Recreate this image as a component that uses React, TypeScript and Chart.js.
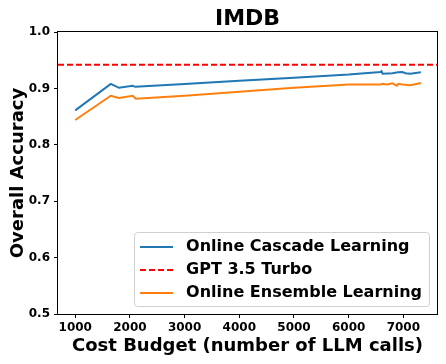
import React, { useEffect, useRef } from "react";
import { Chart, registerables } from "chart.js";

Chart.register(...registerables);

const TITLE = "IMDB";
const X_LABEL = "Cost Budget (number of LLM calls)";
const Y_LABEL = "Overall Accuracy";

const xTicks = [1000, 2000, 3000, 4000, 5000, 6000, 7000];
const yTicks = [0.5, 0.6, 0.7, 0.8, 0.9, 1.0];
const xRange = [685, 7615];
const yRange = [0.5, 1.0];

const cascadeLabel = "Online Cascade Learning";
const cascadeX = [1000, 1650, 1800, 2050, 2100, 3000, 4000, 5000, 6000, 6580, 6600, 6620, 6800, 6900, 6980, 7040, 7130, 7320];
const cascadeY = [0.861, 0.908, 0.901, 0.9045, 0.9028, 0.908, 0.9137, 0.919, 0.9245, 0.929, 0.9305, 0.926, 0.927, 0.9285, 0.929, 0.9268, 0.926, 0.9285];

const gptLabel = "GPT 3.5 Turbo";
const gptAccuracy = 0.942;

const ensembleLabel = "Online Ensemble Learning";
const ensembleX = [1000, 1650, 1800, 2050, 2110, 3000, 4000, 5000, 6000, 6580, 6620, 6700, 6800, 6880, 6910, 6980, 7130, 7320];
const ensembleY = [0.844, 0.887, 0.883, 0.887, 0.8817, 0.887, 0.894, 0.901, 0.907, 0.907, 0.908, 0.907, 0.909, 0.9048, 0.9083, 0.907, 0.9055, 0.9096];

const FONT = '"DejaVu Sans", sans-serif';

const framePlugin = {
  id: "frame",
  afterDatasetsDraw(chart: any) {
    const { ctx, chartArea } = chart;
    const { left, top, right, bottom } = chartArea;
    ctx.save();
    ctx.strokeStyle = "#000";
    ctx.lineWidth = 1;
    ctx.strokeRect(Math.round(left) - 0.5, Math.round(top) - 0.5, Math.round(right - left) + 1, Math.round(bottom - top) + 1);
    ctx.restore();
  },
};

const legendPlugin = {
  id: "innerLegend",
  afterDraw(chart: any) {
    const { ctx, chartArea } = chart;
    ctx.save();
    ctx.font = `bold 16px ${FONT}`;
    const items = chart.data.datasets.map((d: any) => ({
      label: d.label,
      color: d.borderColor,
      dash: d.borderDash || [],
    }));
    const textW = Math.max(...items.map((it: any) => ctx.measureText(it.label).width));
    const padL = 6, sample = 33, gap = 13, padR = 7, rowH = 23, padV = 2.5;
    const w = padL + sample + gap + textW + padR;
    const h = items.length * rowH + padV * 2;
    const x = chartArea.right - 8 - w;
    const y = chartArea.bottom - 8 - h;
    ctx.beginPath();
    (ctx as any).roundRect(x + 0.5, y + 0.5, w, h, 3);
    ctx.fillStyle = "rgba(255,255,255,0.8)";
    ctx.fill();
    ctx.strokeStyle = "#d0d0d0";
    ctx.lineWidth = 1;
    ctx.stroke();
    items.forEach((it: any, i: number) => {
      const cy = y + padV + rowH * i + rowH / 2 + 1;
      ctx.beginPath();
      ctx.setLineDash(it.dash);
      ctx.strokeStyle = it.color;
      ctx.lineWidth = 2;
      ctx.moveTo(x + padL, cy);
      ctx.lineTo(x + padL + sample, cy);
      ctx.stroke();
      ctx.setLineDash([]);
      ctx.fillStyle = "#000";
      ctx.textBaseline = "middle";
      ctx.textAlign = "left";
      ctx.fillText(it.label, x + padL + sample + gap, cy);
    });
    ctx.restore();
  },
};

export default function App() {
  const canvasRef = useRef<HTMLCanvasElement>(null);

  useEffect(() => {
    const canvas = canvasRef.current;
    if (!canvas) return;
    const chart = new Chart(canvas, {
      type: "line",
      data: {
        datasets: [
          {
            label: cascadeLabel,
            data: cascadeX.map((x, i) => ({ x, y: cascadeY[i] })),
            borderColor: "#1f77b4",
            backgroundColor: "#1f77b4",
            borderWidth: 2,
            pointRadius: 0,
            tension: 0,
          },
          {
            label: gptLabel,
            data: [
              { x: xRange[0], y: gptAccuracy },
              { x: xRange[1], y: gptAccuracy },
            ],
            borderColor: "#ff0000",
            backgroundColor: "#ff0000",
            borderWidth: 2,
            borderDash: [6, 3],
            pointRadius: 0,
          },
          {
            label: ensembleLabel,
            data: ensembleX.map((x, i) => ({ x, y: ensembleY[i] })),
            borderColor: "#ff7f0e",
            backgroundColor: "#ff7f0e",
            borderWidth: 2,
            pointRadius: 0,
            tension: 0,
          },
        ],
      },
      options: {
        animation: false,
        responsive: false,
        layout: { padding: { left: 0, right: 9, top: 0, bottom: 0 } },
        plugins: {
          legend: { display: false },
          tooltip: { enabled: false },
          title: {
            display: true,
            text: TITLE,
            fullSize: false,
            color: "#000",
            font: { family: FONT, size: 22, weight: "bold" },
            padding: { top: 5.6, bottom: 0 },
          },
        },
        scales: {
          x: {
            type: "linear",
            min: xRange[0],
            max: xRange[1],
            afterFit: (s: any) => {
              s.height = 50;
            },
            afterBuildTicks: (s: any) => {
              s.ticks = xTicks.map((v) => ({ value: v }));
            },
            grid: { display: true, drawOnChartArea: false, drawTicks: true, tickLength: 4, tickColor: "#000", tickWidth: 1 },
            border: { display: false },
            ticks: {
              color: "#000",
              font: { family: FONT, size: 12, weight: "bold" },
              padding: 3,
              maxRotation: 0,
              autoSkip: false,
              callback: (v: any) => String(v),
            },
            title: {
              display: true,
              text: X_LABEL,
              color: "#000",
              font: { family: FONT, size: 18, weight: "bold" },
              padding: { top: 0, bottom: 6.5 },
            },
          },
          y: {
            type: "linear",
            min: yRange[0],
            max: yRange[1],
            afterFit: (s: any) => {
              s.width = 58;
            },
            afterBuildTicks: (s: any) => {
              s.ticks = yTicks.map((v) => ({ value: v }));
            },
            grid: { display: true, drawOnChartArea: false, drawTicks: true, tickLength: 4, tickColor: "#000", tickWidth: 1 },
            border: { display: false },
            ticks: {
              color: "#000",
              font: { family: FONT, size: 12, weight: "bold" },
              padding: 4,
              autoSkip: false,
              callback: (v: any) => Number(v).toFixed(1),
            },
            title: {
              display: true,
              text: Y_LABEL,
              color: "#000",
              font: { family: FONT, size: 18, weight: "bold" },
              padding: { top: 8, bottom: 0 },
            },
          },
        },
      },
      plugins: [framePlugin, legendPlugin],
    } as any);
    return () => chart.destroy();
  }, []);

  return (
    <div style={{ position: "absolute", left: 0, top: 0, width: 446, height: 364, background: "#fff" }}>
      <canvas ref={canvasRef} width={446} height={364} />
    </div>
  );
}
